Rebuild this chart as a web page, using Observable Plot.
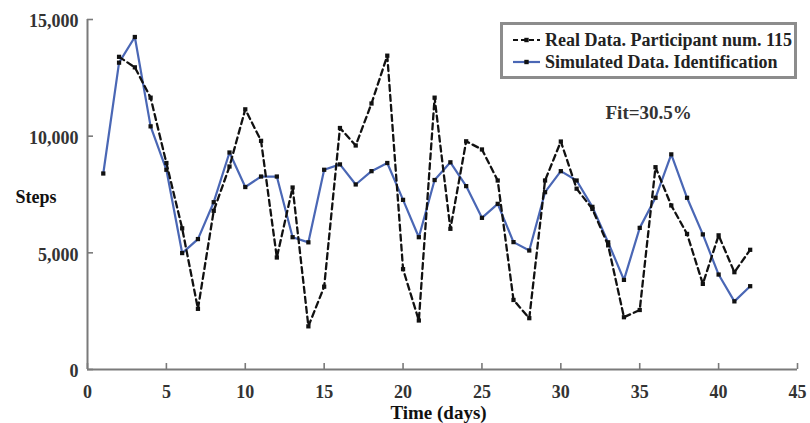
<!DOCTYPE html>
<html><head><meta charset="utf-8">
<script src="https://cdn.jsdelivr.net/npm/d3@7"></script>
<script src="https://cdn.jsdelivr.net/npm/@observablehq/plot@0.6"></script>
<style>
html,body{margin:0;padding:0;background:#fff;}
#wrap{position:relative;width:810px;height:423px;font-family:"Liberation Serif","Times New Roman",serif;}
#legend{position:absolute;left:500px;top:22px;width:291px;height:51px;border:3px solid #8c8c8c;background:#fff;}
#legend svg{display:block;}
</style></head><body><div id="wrap"></div>
<script>
const simDays = [1,2,3,4,5,6,7,8,9,10,11,12,13,14,15,16,17,18,19,20,21,22,23,24,25,26,27,28,29,30,31,32,33,34,35,36,37,38,39,40,41,42];
const simSteps = [8400,13150,14250,10420,8560,4990,5590,7170,9300,7820,8270,8270,5670,5450,8560,8790,7930,8500,8850,7270,5670,8120,8880,7860,6500,7100,5460,5100,7600,8500,8100,6970,5450,3840,6070,7360,9220,7360,5790,4070,2920,3570];
const realDays = [2,3,4,5,6,7,8,9,10,11,12,13,14,15,16,17,18,19,20,21,22,23,24,25,26,27,28,29,30,31,32,33,34,35,36,37,38,39,40,41,42];
const realSteps = [13400,12950,11650,8850,6050,2600,6800,8700,11150,9800,4800,7800,1850,3550,10350,9600,11400,13450,4300,2100,11650,6030,9780,9430,8100,2980,2200,8100,9770,7750,6880,5320,2240,2550,8670,7030,5810,3670,5750,4170,5130];
const xTicks = [0,5,10,15,20,25,30,35,40,45];
const yTicks = [0,5000,10000,15000];
const xDomain = [0,45];
const yDomain = [0,15000];
const seriesNames = ["Real Data. Participant num. 115","Simulated Data. Identification"];
const xLabel = "Time (days)";
const yLabel = "Steps";
const fitLabel = "Fit=30.5%";

const simData = simDays.map((d,i)=>({day:d, steps:simSteps[i]}));
const realData = realDays.map((d,i)=>({day:d, steps:realSteps[i]}));

const blue = "#4a67b5", black = "#111", axisGrey = "#7a7a7a";

const chart = Plot.plot({
  width: 810, height: 423,
  marginLeft: 87, marginRight: 13, marginTop: 19, marginBottom: 54,
  style: {fontFamily: "Liberation Serif, Times New Roman, serif", fontSize: "18px", fontWeight: "bold", color: "#333", background: "#fff"},
  x: {domain: xDomain, label: null},
  y: {domain: yDomain, label: null},
  marks: [
    Plot.ruleY([yDomain[0]], {x1: xDomain[0], x2: xDomain[1], stroke: axisGrey, strokeWidth: 2}),
    Plot.ruleX([xDomain[0]], {y1: yDomain[0], y2: yDomain[1], stroke: axisGrey, strokeWidth: 2}),
    Plot.axisX(xTicks, {tickSize: 6, dy: -6, fill: "none", stroke: axisGrey, strokeWidth: 1.6}),
    Plot.axisX(xTicks, {tickSize: 0, tickPadding: 16, stroke: "none", fill: "#333"}),
    Plot.axisY(yTicks, {tickSize: 6, dx: 6, fill: "none", stroke: axisGrey, strokeWidth: 1.6}),
    Plot.axisY(yTicks, {tickSize: 0, tickPadding: 9, dy: 2, stroke: "none", fill: "#333", tickFormat: d3.format(",")}),
    Plot.line(simData, {x: "day", y: "steps", stroke: blue, strokeWidth: 2.2}),
    Plot.line(realData, {x: "day", y: "steps", stroke: black, strokeWidth: 2.3, strokeDasharray: "6,4"}),
    Plot.dot(simData, {x: "day", y: "steps", symbol: "square", r: 2.4, fill: black}),
    Plot.dot(realData, {x: "day", y: "steps", symbol: "square", r: 2.4, fill: black}),
    Plot.text([yLabel], {text: d => d, frameAnchor: "left", dx: -72, dy: 3, textAnchor: "start", fontSize: 18, fill: black}),
    Plot.text([xLabel], {text: d => d, frameAnchor: "bottom", dx: -4, dy: 49, textAnchor: "middle", fontSize: 19, fill: black}),
    Plot.text([fitLabel], {text: d => d, frameAnchor: "top-left", dx: 518, dy: 86, textAnchor: "start", fontSize: 19, fill: "#333"})
  ]
});
const wrap = document.getElementById("wrap");
wrap.appendChild(chart);

// legend
const leg = document.createElement("div");
leg.id = "legend";
const ns = "http://www.w3.org/2000/svg";
const svg = document.createElementNS(ns, "svg");
svg.setAttribute("width", 291); svg.setAttribute("height", 51);
const styles = [{stroke: black, dash: "5,3", w: 2.2}, {stroke: blue, dash: null, w: 2.2}];
seriesNames.forEach((name, i) => {
  const y = 15 + i * 22;
  const ln = document.createElementNS(ns, "line");
  ln.setAttribute("x1", 10); ln.setAttribute("x2", 37);
  ln.setAttribute("y1", y); ln.setAttribute("y2", y);
  ln.setAttribute("stroke", styles[i].stroke);
  ln.setAttribute("stroke-width", styles[i].w);
  if (styles[i].dash) ln.setAttribute("stroke-dasharray", styles[i].dash);
  svg.appendChild(ln);
  const mk = document.createElementNS(ns, "rect");
  mk.setAttribute("x", 21.3); mk.setAttribute("y", y - 2.2);
  mk.setAttribute("width", 4.4); mk.setAttribute("height", 4.4);
  mk.setAttribute("fill", black);
  svg.appendChild(mk);
  const t = document.createElementNS(ns, "text");
  t.setAttribute("x", 42); t.setAttribute("y", y + 5.5);
  t.setAttribute("font-family", "Liberation Serif, Times New Roman, serif");
  t.setAttribute("font-size", 18); t.setAttribute("font-weight", "bold");
  t.setAttribute("fill", "#222");
  t.textContent = name;
  svg.appendChild(t);
});
leg.appendChild(svg);
wrap.appendChild(leg);
</script>
</body></html>
